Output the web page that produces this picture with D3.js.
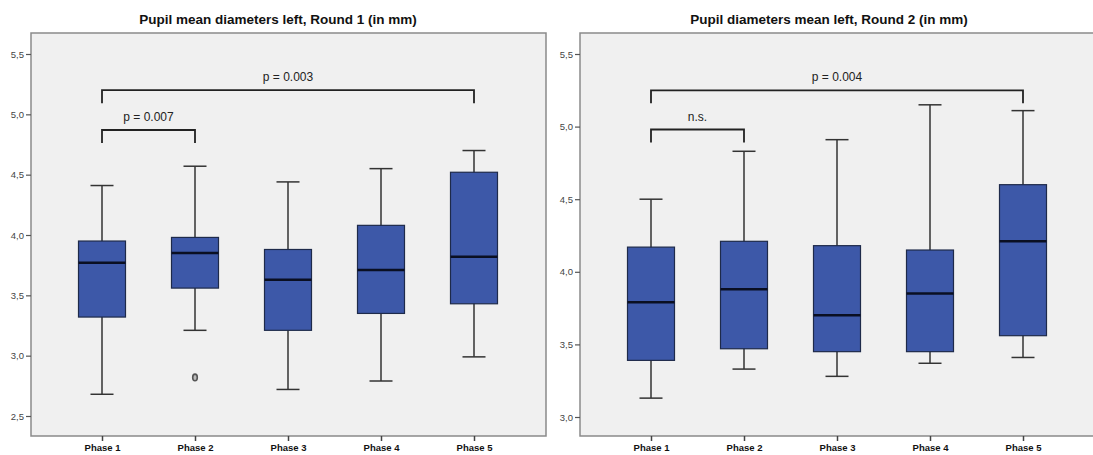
<!DOCTYPE html>
<html>
<head>
<meta charset="utf-8">
<script src="https://cdn.jsdelivr.net/npm/d3@7"></script>
<style>
  body { margin: 0; background: #fff; }
  text { font-family: "Liberation Sans", Arial, sans-serif; }
</style>
</head>
<body>
<div id="chart"></div>
<script>
var phases = ["Phase 1", "Phase 2", "Phase 3", "Phase 4", "Phase 5"];

// Round 1: [low whisker, Q1, median, Q3, high whisker]
var round1 = [
  [2.68, 3.32, 3.77, 3.95, 4.41],
  [3.21, 3.56, 3.85, 3.98, 4.57],
  [2.72, 3.21, 3.63, 3.88, 4.44],
  [2.79, 3.35, 3.71, 4.08, 4.55],
  [2.99, 3.43, 3.82, 4.52, 4.70]
];
var round1Outliers = [{phase: "Phase 2", value: 2.82}];
var round1Ticks = [2.5, 3.0, 3.5, 4.0, 4.5, 5.0, 5.5];

var round2 = [
  [3.13, 3.39, 3.79, 4.17, 4.50],
  [3.33, 3.47, 3.88, 4.21, 4.83],
  [3.28, 3.45, 3.70, 4.18, 4.91],
  [3.37, 3.45, 3.85, 4.15, 5.15],
  [3.41, 3.56, 4.21, 4.60, 5.11]
];
var round2Outliers = [];
var round2Ticks = [3.0, 3.5, 4.0, 4.5, 5.0, 5.5];

var round1Brackets = [
  {from: "Phase 1", to: "Phase 5", level: 5.20, label: "p = 0.003"},
  {from: "Phase 1", to: "Phase 2", level: 4.87, label: "p = 0.007"}
];
var round2Brackets = [
  {from: "Phase 1", to: "Phase 5", level: 5.25, label: "p = 0.004"},
  {from: "Phase 1", to: "Phase 2", level: 4.98, label: "n.s."}
];

var svg = d3.select("#chart")
  .append("svg")
    .attr("width", 1093)
    .attr("height", 455);

function drawPanel(opt) {
  var g = svg.append("g");
  var left = opt.left, right = opt.left + 515, top = 33, bottom = 436;

  g.append("text")
    .attr("x", opt.titleX)
    .attr("y", 24)
    .attr("text-anchor", "middle")
    .attr("font-size", "13.5px")
    .attr("font-weight", "bold")
    .attr("fill", "#111")
    .text(opt.title);

  g.append("rect")
    .attr("x", left)
    .attr("y", top)
    .attr("width", right - left)
    .attr("height", bottom - top)
    .attr("fill", "#f0f0f0")
    .attr("stroke", "#8a8a8a")
    .attr("stroke-width", 1.5);

  var x = d3.scalePoint()
    .domain(phases)
    .range([left + 71, left + 443]);

  var y = d3.scaleLinear()
    .domain(opt.yDomain)
    .range(opt.yRange);

  var yAxis = g.append("g")
    .attr("transform", "translate(" + left + ",0)")
    .call(d3.axisLeft(y)
      .tickValues(opt.ticks)
      .tickSize(5)
      .tickPadding(2)
      .tickFormat(function(d) { return d3.format(".1f")(d).replace(".", ","); }));
  yAxis.select(".domain").remove();
  yAxis.selectAll(".tick line").attr("stroke", "#555").attr("stroke-width", 1.2);
  yAxis.selectAll(".tick text")
    .attr("font-size", "9.5px")
    .attr("fill", "#444")
    .attr("font-family", "\"Liberation Sans\", Arial, sans-serif");

  var xAxis = g.append("g")
    .attr("transform", "translate(0," + bottom + ")")
    .call(d3.axisBottom(x).tickSize(5).tickPadding(3));
  xAxis.select(".domain").remove();
  xAxis.selectAll(".tick line").attr("stroke", "#444").attr("stroke-width", 1.5);
  xAxis.selectAll(".tick text")
    .attr("font-size", "9.5px")
    .attr("font-weight", "bold")
    .attr("fill", "#111")
    .attr("font-family", "\"Liberation Sans\", Arial, sans-serif");

  var boxW = 47, capW = 23;
  var boxes = g.selectAll(".box")
    .data(opt.data.map(function(d, i) { return {phase: phases[i], s: d}; }))
    .enter()
    .append("g")
    .attr("class", "box");

  boxes.append("line")
    .attr("x1", function(d) { return x(d.phase); })
    .attr("x2", function(d) { return x(d.phase); })
    .attr("y1", function(d) { return y(d.s[0]); })
    .attr("y2", function(d) { return y(d.s[4]); })
    .attr("stroke", "#333")
    .attr("stroke-width", 1.5);

  [0, 4].forEach(function(k) {
    boxes.append("line")
      .attr("x1", function(d) { return x(d.phase) - capW / 2; })
      .attr("x2", function(d) { return x(d.phase) + capW / 2; })
      .attr("y1", function(d) { return y(d.s[k]); })
      .attr("y2", function(d) { return y(d.s[k]); })
      .attr("stroke", "#333")
      .attr("stroke-width", 1.5);
  });

  boxes.append("rect")
    .attr("x", function(d) { return x(d.phase) - boxW / 2; })
    .attr("y", function(d) { return y(d.s[3]); })
    .attr("width", boxW)
    .attr("height", function(d) { return y(d.s[1]) - y(d.s[3]); })
    .attr("fill", "#3d58a8")
    .attr("stroke", "#1e2a4a")
    .attr("stroke-width", 1.2);

  boxes.append("line")
    .attr("x1", function(d) { return x(d.phase) - boxW / 2; })
    .attr("x2", function(d) { return x(d.phase) + boxW / 2; })
    .attr("y1", function(d) { return y(d.s[2]); })
    .attr("y2", function(d) { return y(d.s[2]); })
    .attr("stroke", "#0a0f22")
    .attr("stroke-width", 2.5);

  g.selectAll(".outlier")
    .data(opt.outliers)
    .enter()
    .append("ellipse")
    .attr("class", "outlier")
    .attr("cx", function(d) { return x(d.phase); })
    .attr("cy", function(d) { return y(d.value); })
    .attr("rx", 2.3)
    .attr("ry", 3.3)
    .attr("fill", "#bbb")
    .attr("stroke", "#555")
    .attr("stroke-width", 1.6);

  var br = g.selectAll(".bracket")
    .data(opt.brackets)
    .enter()
    .append("g")
    .attr("class", "bracket");

  br.append("path")
    .attr("d", function(d) {
      var yy = y(d.level);
      return "M" + x(d.from) + "," + (yy + 13) + "V" + yy + "H" + x(d.to) + "V" + (yy + 13);
    })
    .attr("fill", "none")
    .attr("stroke", "#222")
    .attr("stroke-width", 1.8);

  br.append("text")
    .attr("x", function(d) { return (x(d.from) + x(d.to)) / 2; })
    .attr("y", function(d) { return y(d.level) - 9; })
    .attr("text-anchor", "middle")
    .attr("font-size", "12px")
    .attr("fill", "#222")
    .text(function(d) { return d.label; });
}

drawPanel({
  left: 31, titleX: 278,
  title: "Pupil mean diameters left, Round 1 (in mm)",
  yDomain: [2.5, 5.5], yRange: [416, 54],
  ticks: round1Ticks, data: round1, outliers: round1Outliers, brackets: round1Brackets
});

drawPanel({
  left: 580, titleX: 829,
  title: "Pupil diameters mean left, Round 2 (in mm)",
  yDomain: [3.0, 5.5], yRange: [417, 54],
  ticks: round2Ticks, data: round2, outliers: round2Outliers, brackets: round2Brackets
});
</script>
</body>
</html>
